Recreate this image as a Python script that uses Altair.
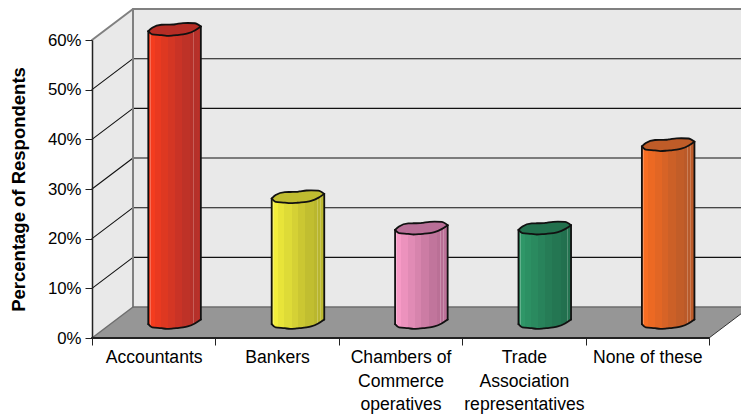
import altair as alt
import numpy as np
import pandas as pd

categories = ["Accountants", "Bankers", "Chambers of|Commerce|operatives",
              "Trade|Association|representatives", "None of these"]
values = [59.0, 25.3, 19.0, 19.0, 35.8]
left_colors = ["#f43c1e", "#f2ee3c", "#f79ac6", "#2f9768", "#f76d22"]
right_colors = ["#b4302a", "#b8b52e", "#b76e94", "#22704e", "#b85a2a"]
cap_colors = ["#b62d25", "#bfbc30", "#b96f97", "#22704d", "#bf5c28"]

# Oblique depth of the floor, in category units and percentage points
UNIT_PX = 123.4
DEPTH_X = 41 / UNIT_PX
DEPTH_Y = 6.24
X_END = 649 / UNIT_PX
FONT = "Liberation Sans"
BAR_HALF = 0.213

# Hand-traced cap outline: position across the bar, and percentage offsets of the two edges
cap_u = [-1, -0.85, -0.5, -0.3, -0.05, 0.06, 0.32, 0.5, 0.77, 1]
cap_upper = [-0.34, 0.35, 0.95, 0.98, 1.0, 1.08, 1.28, 1.3, 1.25, 0.6]
cap_lower = [-0.34, -1.0, -1.15, -1.28, -1.2, -1.15, -1.0, -0.8, -0.2, 0.6]

x_scale = alt.Scale(domain=[0, X_END], nice=False, zero=False)
y_scale = alt.Scale(domain=[0, 60], nice=False, zero=False)

# Category labels sit midway between ticks, via the label offset
names = ", ".join("[" + ", ".join(f"'{p}'" for p in c.split("|")) + "]" for c in categories)
x_axis = alt.Axis(values=[0, 1, 2, 3, 4, 5], domain=False, grid=False, tickSize=7,
                  tickColor="#222222", tickWidth=1, labelFont=FONT, labelFontSize=17.6,
                  labelColor="#000000", labelOffset=UNIT_PX / 2, labelPadding=3.5, labelAngle=0,
                  labelAlign="center", labelBaseline="top", labelLineHeight=23.5,
                  labelOverlap=False, labelBound=False, labelFlush=False, zindex=1,
                  labelExpr=f"datum.value < 5 ? [{names}][datum.value] : ''")
y_axis = alt.Axis(values=list(range(0, 70, 10)), grid=False, tickSize=7, tickColor="#222222",
                  tickWidth=1, domainColor="#222222", domainWidth=1.5, labelFont=FONT,
                  labelFontSize=16.8, labelColor="#000000", labelPadding=4, zindex=1,
                  labelExpr="datum.value + '%'", titleFont=FONT, titleFontSize=18.5,
                  titleFontWeight="bold", titleColor="#000000", titleX=-64, titleY=149)


def X():
    return alt.X("x:Q", scale=x_scale, axis=x_axis, title=None)


def Y():
    return alt.Y("y:Q", scale=y_scale, axis=y_axis, title="Percentage of Respondents")


def area(df, fill, interpolate="linear"):
    return alt.Chart(df).mark_area(fill=fill, opacity=1, line=False, interpolate=interpolate).encode(
        x=X(), y=Y(), y2="y2:Q")


def path(points, color, width, interpolate="linear"):
    df = pd.DataFrame(points, columns=["x", "y"]).assign(o=range(len(points)))
    return alt.Chart(df).mark_line(color=color, strokeWidth=width, strokeJoin="round",
                                   strokeCap="round", interpolate=interpolate).encode(
        x=X(), y=Y(), order="o:Q")


def bands(left, right):
    """Stepped left-to-right shading across a cylinder, with thin pale streaks near its edges."""
    a = np.array([int(left[i:i + 2], 16) for i in (1, 3, 5)], float)
    b = np.array([int(right[i:i + 2], 16) for i in (1, 3, 5)], float)
    white = np.array([255.0, 255.0, 255.0])

    def to_hex(c):
        return "#%02x%02x%02x" % tuple(int(v) for v in c)

    # (start, end, position along the ramp, share of white)
    segments = [(0, 0.025, 0.0, 0.0), (0.025, 0.045, 0.0, 0.25), (0.045, 0.12, 0.0, 0.0),
                (0.12, 0.24, 0.17, 0.0), (0.24, 0.38, 0.33, 0.0), (0.38, 0.5, 0.5, 0.0),
                (0.5, 0.64, 0.67, 0.0), (0.64, 0.8, 0.83, 0.0), (0.8, 0.86, 0.95, 0.0),
                (0.86, 0.875, 0.95, 0.22), (0.875, 0.92, 1.0, 0.0),
                (0.92, 0.935, 0.95, 0.22), (0.935, 1, 0.92, 0.0)]
    stops = []
    for start, end, t, w in segments:
        c = a + (b - a) * t
        c = c + (white - c) * w
        stops += [alt.GradientStop(offset=start, color=to_hex(c)),
                  alt.GradientStop(offset=end, color=to_hex(c))]
    return alt.Gradient(gradient="linear", x1=0, x2=1, y1=0, y2=0, stops=stops)


layers = []

# Walls and floor
layers.append(area(pd.DataFrame({"x": [DEPTH_X, X_END], "y": [DEPTH_Y, DEPTH_Y],
                                 "y2": [60 + DEPTH_Y, 60 + DEPTH_Y]}), "#e9e9e9"))
layers.append(area(pd.DataFrame({"x": [0, DEPTH_X], "y": [60, 60 + DEPTH_Y],
                                 "y2": [0, DEPTH_Y]}), "#e9e9e9"))
layers.append(area(pd.DataFrame({"x": [0, DEPTH_X, 5, 5 + DEPTH_X],
                                 "y": [0, DEPTH_Y, DEPTH_Y, DEPTH_Y],
                                 "y2": [0, 0, 0, DEPTH_Y]}), "#969696"))

# Gridlines across both walls
for v in range(10, 60, 10):
    layers.append(path([(0, v), (DEPTH_X, v + DEPTH_Y), (X_END, v + DEPTH_Y)], "#111111", 1.1))

# Wall frame
layers.append(path([(0, 60), (DEPTH_X, 60 + DEPTH_Y), (X_END, 60 + DEPTH_Y)], "#808080", 2))
layers.append(path([(DEPTH_X, 60 + DEPTH_Y), (DEPTH_X, DEPTH_Y)], "#808080", 2))
layers.append(path([(0, 0), (DEPTH_X, DEPTH_Y), (X_END, DEPTH_Y)], "#6e6e6e", 1.5))
layers.append(path([(5, 0), (5 + DEPTH_X, DEPTH_Y)], "#333333", 1))
layers.append(path([(0, 0), (5, 0)], "#222222", 2))

# Cylinders
for i, v in enumerate(values):
    cx = i + 0.5 + DEPTH_X / 2 + 0.003
    base = DEPTH_Y / 2
    xs = cx + np.array(cap_u) * BAR_HALF
    upper = np.array(cap_upper)
    lower = np.array(cap_lower)
    body = pd.DataFrame({"x": xs, "y": base + v + lower, "y2": base + lower})
    cap = pd.DataFrame({"x": xs, "y": base + v + upper, "y2": base + v + lower})
    layers.append(area(body, bands(left_colors[i], right_colors[i]), "monotone"))
    layers.append(area(cap, cap_colors[i], "monotone"))
    # Dark outline: cap edges, base curve and the two sides
    top_edge = list(zip(xs, base + v + upper))
    low_edge = list(zip(xs, base + v + lower))
    bottom = list(zip(xs, base + lower))
    for edge in (top_edge, low_edge, bottom):
        layers.append(path(edge, "#111111", 1.8, "monotone"))
    layers.append(path([low_edge[0], bottom[0]], "#111111", 1.8))
    layers.append(path([low_edge[-1], bottom[-1]], "#111111", 1.8))

chart = alt.layer(*layers).properties(
    width=649, height=298,
    padding={"left": 92, "top": 40, "right": 0, "bottom": 78},
    autosize=alt.AutoSizeParams(type="none"),
    background="white",
).configure_view(stroke=None)

chart.save("out.html", embed_options={"renderer": "svg", "actions": False})
